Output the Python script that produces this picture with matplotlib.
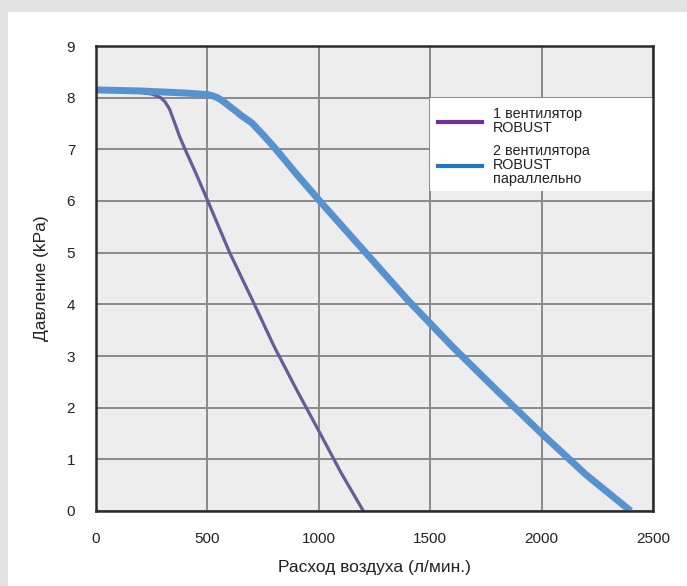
import matplotlib.pyplot as plt
from matplotlib.lines import Line2D
from matplotlib.patches import Rectangle

plt.rcParams['font.family'] = ['Liberation Sans', 'DejaVu Sans']

# 1 fan
flow1 = [0, 100, 200, 250, 270, 290, 310, 330, 350, 375, 400, 450, 500, 600, 700, 800,
         900, 1000, 1100, 1200]
p1 = [8.13, 8.12, 8.10, 8.07, 8.04, 8.0, 7.92, 7.78, 7.55, 7.25, 7.0, 6.52, 6.02, 5.0,
      4.1, 3.18, 2.35, 1.55, 0.74, 0.0]

# 2 fans in parallel
flow2 = [0, 200, 400, 500, 520, 540, 560, 580, 600, 625, 650, 700, 750, 800, 900, 1000,
         1200, 1400, 1600, 1800, 2000, 2200, 2400]
p2 = [8.15, 8.13, 8.09, 8.06, 8.04, 8.01, 7.96, 7.9, 7.83, 7.75, 7.66, 7.51, 7.28, 7.04,
      6.52, 6.02, 5.05, 4.08, 3.18, 2.33, 1.5, 0.7, 0.0]

labels = ['1 вентилятор\nROBUST', '2 вентилятора\nROBUST\nпараллельно']
xticks = [0, 500, 1000, 1500, 2000, 2500]
yticks = list(range(10))

fig = plt.figure(figsize=(6.87, 5.86), dpi=100, facecolor='#e3e3e4')
fig.patches.append(Rectangle((8 / 687, 0), 1, (586 - 12) / 586, transform=fig.transFigure,
                             facecolor='white', edgecolor='none', zorder=-10))

ax = fig.add_axes([96 / 687, 75 / 586, 557 / 687, 465 / 586])
ax.set_facecolor('#ededed')

ax.plot(flow1, p1, color='#6b5a98', lw=2.3, zorder=3, solid_capstyle='butt')
ax.plot(flow2, p2, color='#5592cf', lw=5, zorder=4, solid_capstyle='butt')

ax.set_xlim(0, 2500)
ax.set_ylim(0, 9)
ax.set_xticks(xticks)
ax.set_yticks(yticks)
ax.tick_params(length=0, labelsize=11, colors='#222222')
ax.tick_params(axis='x', pad=15)
ax.tick_params(axis='y', pad=15)
ax.grid(True, color='#8a8a8a', lw=1.4)
ax.set_axisbelow(True)
for s in ax.spines.values():
    s.set_color('#2a2a2a')
    s.set_linewidth(1.8)
    s.set_zorder(6)

ax.set_xlabel('Расход воздуха (л/мин.)', fontsize=12.5, color='#222222', labelpad=10)
ax.set_ylabel('Давление (kPa)', fontsize=12.5, color='#222222', labelpad=13)

# legend box (white, flush with right edge)
ax.add_patch(Rectangle((0.6, 0.688), 0.4, 0.2, transform=ax.transAxes,
                       facecolor='white', edgecolor='none', zorder=5))
handles = [Line2D([], [], color='#7030a0', lw=3),
           Line2D([], [], color='#1f78c1', lw=3)]
leg = ax.legend(handles, labels, loc='upper left', bbox_to_anchor=(0.6, 0.885),
                frameon=False, fontsize=10.4, handlelength=3.05, handletextpad=0.76,
                labelspacing=0.6, borderaxespad=0, borderpad=0.55)
leg.set_zorder(7)
for t in leg.get_texts():
    t.set_linespacing(1.0)
    t.set_color('#222222')

fig.savefig('out.png', dpi=100, facecolor=fig.get_facecolor())
